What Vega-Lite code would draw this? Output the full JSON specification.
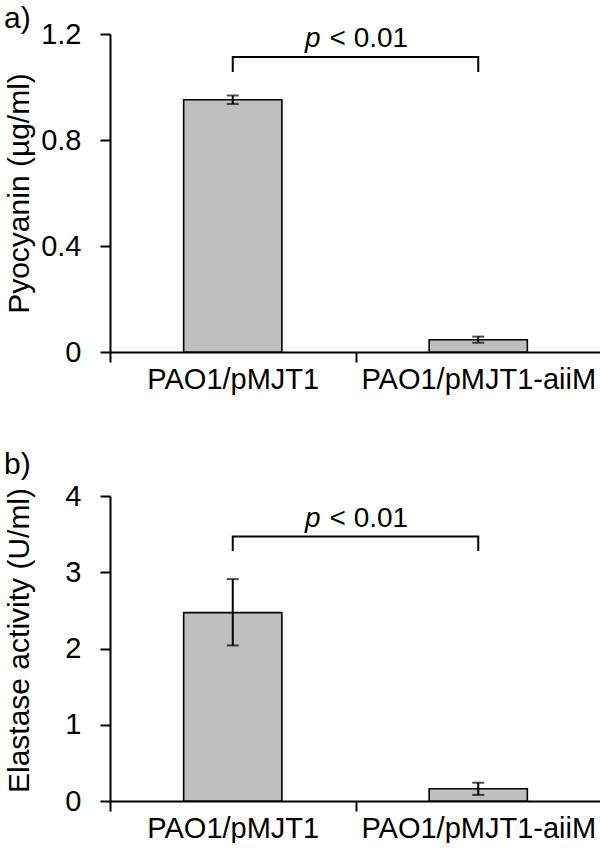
{
  "$schema": "https://vega.github.io/schema/vega-lite/v6.json",
  "background": "white",
  "padding": {"left": 3, "top": 4, "right": 2, "bottom": 0},
  "config": {
    "view": {"stroke": null},
    "font": "Liberation Sans",
    "axis": {
      "domainColor": "black", "domainWidth": 2,
      "tickColor": "black", "tickWidth": 2, "tickSize": 10,
      "labelColor": "black", "labelFont": "Liberation Sans", "labelFontSize": 29, "labelLimit": 0,
      "titleFont": "Liberation Sans", "titleFontSize": 30, "titleFontWeight": "normal", "titleColor": "black",
      "grid": false
    },
    "title": {"font": "Liberation Sans", "fontSize": 30, "fontWeight": "normal", "color": "black", "anchor": "start", "frame": "bounds"},
    "concat": {"spacing": 56}
  },
  "datasets": {
    "pyo": [
      {"strain": "PAO1/pMJT1", "mean": 0.952, "lo": 0.936, "hi": 0.968},
      {"strain": "PAO1/pMJT1-aiiM", "mean": 0.046, "lo": 0.035, "hi": 0.058}
    ],
    "ela": [
      {"strain": "PAO1/pMJT1", "mean": 2.47, "lo": 2.04, "hi": 2.91},
      {"strain": "PAO1/pMJT1-aiiM", "mean": 0.16, "lo": 0.08, "hi": 0.24}
    ],
    "brA": [
      {"strain": "PAO1/pMJT1", "y": 1.057, "o": 1},
      {"strain": "PAO1/pMJT1", "y": 1.113, "o": 2},
      {"strain": "PAO1/pMJT1-aiiM", "y": 1.113, "o": 3},
      {"strain": "PAO1/pMJT1-aiiM", "y": 1.057, "o": 4}
    ],
    "brB": [
      {"strain": "PAO1/pMJT1", "y": 3.28, "o": 1},
      {"strain": "PAO1/pMJT1", "y": 3.47, "o": 2},
      {"strain": "PAO1/pMJT1-aiiM", "y": 3.47, "o": 3},
      {"strain": "PAO1/pMJT1-aiiM", "y": 3.28, "o": 4}
    ],
    "pA": [{"strain": "PAO1/pMJT1", "y": 1.151}],
    "pB": [{"strain": "PAO1/pMJT1", "y": 3.59}]
  },
  "vconcat": [
    {
      "title": {"text": "a)", "offset": -14},
      "width": 491,
      "height": 318,
      "encoding": {
        "x": {"field": "strain", "type": "nominal", "sort": null, "title": null,
              "scale": {"domain": ["PAO1/pMJT1", "PAO1/pMJT1-aiiM"], "paddingInner": 0, "paddingOuter": 0},
              "axis": {"labelAngle": 0, "tickBand": "extent", "labelPadding": 3}}
      },
      "layer": [
        {"data": {"name": "pyo"},
         "mark": {"type": "bar", "fill": "#bfbfbf", "stroke": "black", "strokeWidth": 1.6, "width": {"band": 0.4}},
         "encoding": {"y": {"field": "mean", "type": "quantitative", "title": "Pyocyanin (µg/ml)",
            "scale": {"domain": [0, 1.2]},
            "axis": {"values": [0, 0.4, 0.8, 1.2], "format": "~g", "labelPadding": 19, "titleX": -82, "titleBaseline": "alphabetic"}}}},
        {"data": {"name": "pyo"},
         "mark": {"type": "rule", "color": "black", "strokeWidth": 2},
         "encoding": {"y": {"field": "lo", "type": "quantitative", "title": "Pyocyanin (µg/ml)"}, "y2": {"field": "hi"}}},
        {"data": {"name": "pyo"},
         "mark": {"type": "tick", "color": "black", "thickness": 2, "size": 12},
         "encoding": {"y": {"field": "lo", "type": "quantitative", "title": "Pyocyanin (µg/ml)"}}},
        {"data": {"name": "pyo"},
         "mark": {"type": "tick", "color": "black", "thickness": 2, "size": 12},
         "encoding": {"y": {"field": "hi", "type": "quantitative", "title": "Pyocyanin (µg/ml)"}}},
        {"data": {"name": "brA"},
         "mark": {"type": "line", "color": "black", "strokeWidth": 2, "strokeJoin": "miter"},
         "encoding": {"y": {"field": "y", "type": "quantitative", "title": "Pyocyanin (µg/ml)"}, "order": {"field": "o"}}},
        {"data": {"name": "pA"},
         "mark": {"type": "text", "text": "p", "fontStyle": "italic", "fontSize": 28, "align": "right", "baseline": "alphabetic", "dx": -35, "color": "black"},
         "encoding": {"x": {"field": "strain", "type": "nominal", "bandPosition": 1}, "y": {"field": "y", "type": "quantitative", "title": "Pyocyanin (µg/ml)"}}},
        {"data": {"name": "pA"},
         "mark": {"type": "text", "text": "< 0.01", "fontSize": 28, "align": "left", "baseline": "alphabetic", "dx": -26, "color": "black"},
         "encoding": {"x": {"field": "strain", "type": "nominal", "bandPosition": 1}, "y": {"field": "y", "type": "quantitative", "title": "Pyocyanin (µg/ml)"}}}
      ]
    },
    {
      "title": {"text": "b)", "offset": 2},
      "width": 491,
      "height": 305,
      "encoding": {
        "x": {"field": "strain", "type": "nominal", "sort": null, "title": null,
              "scale": {"domain": ["PAO1/pMJT1", "PAO1/pMJT1-aiiM"], "paddingInner": 0, "paddingOuter": 0},
              "axis": {"labelAngle": 0, "tickBand": "extent", "labelPadding": 3}}
      },
      "layer": [
        {"data": {"name": "ela"},
         "mark": {"type": "bar", "fill": "#bfbfbf", "stroke": "black", "strokeWidth": 1.6, "width": {"band": 0.4}},
         "encoding": {"y": {"field": "mean", "type": "quantitative", "title": "Elastase activity (U/ml)",
            "scale": {"domain": [0, 4]},
            "axis": {"values": [0, 1, 2, 3, 4], "format": "d", "labelPadding": 19, "titleX": -82, "titleY": 144, "titleBaseline": "alphabetic"}}}},
        {"data": {"name": "ela"},
         "mark": {"type": "rule", "color": "black", "strokeWidth": 2},
         "encoding": {"y": {"field": "lo", "type": "quantitative", "title": "Elastase activity (U/ml)"}, "y2": {"field": "hi"}}},
        {"data": {"name": "ela"},
         "mark": {"type": "tick", "color": "black", "thickness": 2, "size": 12},
         "encoding": {"y": {"field": "lo", "type": "quantitative", "title": "Elastase activity (U/ml)"}}},
        {"data": {"name": "ela"},
         "mark": {"type": "tick", "color": "black", "thickness": 2, "size": 12},
         "encoding": {"y": {"field": "hi", "type": "quantitative", "title": "Elastase activity (U/ml)"}}},
        {"data": {"name": "brB"},
         "mark": {"type": "line", "color": "black", "strokeWidth": 2, "strokeJoin": "miter"},
         "encoding": {"y": {"field": "y", "type": "quantitative", "title": "Elastase activity (U/ml)"}, "order": {"field": "o"}}},
        {"data": {"name": "pB"},
         "mark": {"type": "text", "text": "p", "fontStyle": "italic", "fontSize": 28, "align": "right", "baseline": "alphabetic", "dx": -35, "color": "black"},
         "encoding": {"x": {"field": "strain", "type": "nominal", "bandPosition": 1}, "y": {"field": "y", "type": "quantitative", "title": "Elastase activity (U/ml)"}}},
        {"data": {"name": "pB"},
         "mark": {"type": "text", "text": "< 0.01", "fontSize": 28, "align": "left", "baseline": "alphabetic", "dx": -26, "color": "black"},
         "encoding": {"x": {"field": "strain", "type": "nominal", "bandPosition": 1}, "y": {"field": "y", "type": "quantitative", "title": "Elastase activity (U/ml)"}}}
      ]
    }
  ]
}
